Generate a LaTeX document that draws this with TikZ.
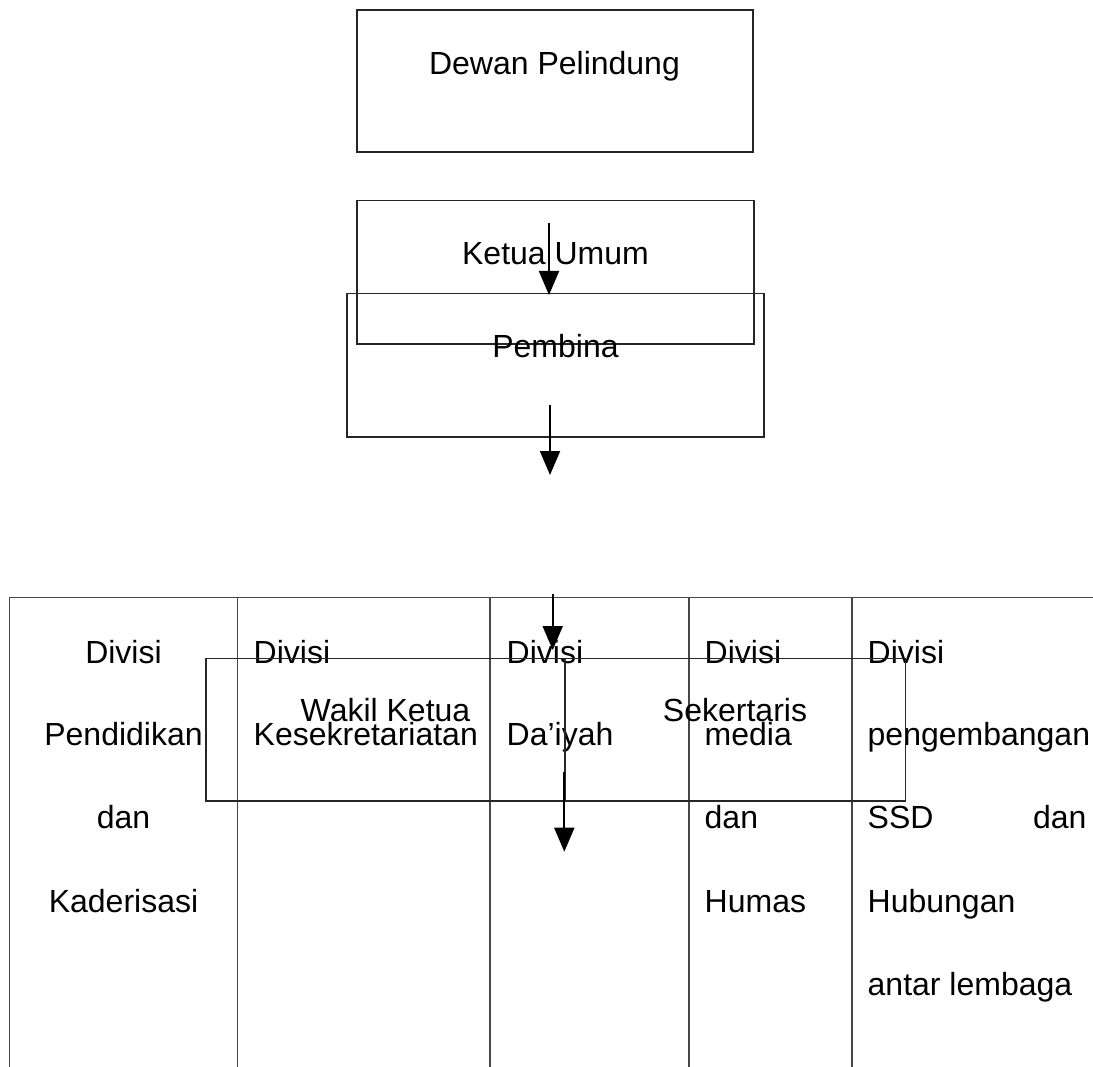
\documentclass[tikz,border=0pt]{standalone}
\usepackage{fontspec}
\setmainfont{Liberation Sans}
\usetikzlibrary{arrows.meta}
\begin{document}
\begin{tikzpicture}[x=1pt,y=-1pt,
  box/.style={draw=black!85, line width=1.3pt, inner sep=0pt},
  gridline/.style={draw=black!72, line width=1.2pt},
  txt/.style={inner sep=0pt, font=\fontsize{32}{38}\selectfont},
  arr/.style={line width=2pt, -{Triangle[width=20pt,length=24pt]}}]
\useasboundingbox (0,0) rectangle (1093,1067);

% top boxes
\node[box, minimum width=396pt, minimum height=142pt] (dewan) at (555,81) {};
\node[txt, anchor=base] (dewant) at (554.5,75) {Dewan Pelindung};
\node[box, minimum width=397pt, minimum height=143.3pt] (ketua) at (555.5,272.3) {};
\node[txt, anchor=base] (ketuat) at (555.5,265) {Ketua Umum};
\node[box, minimum width=417pt, minimum height=143.3pt] (pembina) at (555.5,365.3) {};
\node[txt, anchor=base] (pembinat) at (555.5,358) {Pembina};

% arrows
\coordinate (a1s) at (549,223); \coordinate (a1e) at (549,295);
\coordinate (a2s) at (550,405); \coordinate (a2e) at (550,475);
\coordinate (a3s) at (552.7,594); \coordinate (a3e) at (552.7,650);
\coordinate (a4s) at (564.3,771.7); \coordinate (a4e) at (564.3,851.7);

% table grid
\coordinate (tl) at (8.7,597.3); \coordinate (tr) at (1093,597.3);
\draw[gridline] (tl) -- (tr);
\foreach \x in {9.3,237.7,490,689,852}{
  \draw[gridline] (\x,597.3) -- (\x,1067);
}

% table texts
\node[txt, anchor=base] (c1a) at (123.5,663) {Divisi};
\node[txt, anchor=base] (c1b) at (123.5,745.7) {Pendidikan};
\node[txt, anchor=base] (c1c) at (123.5,828.3) {dan};
\node[txt, anchor=base] (c1d) at (123.5,912.7) {Kaderisasi};

\node[txt, anchor=base west] (c2a) at (253.5,663) {Divisi};
\node[txt, anchor=base west] (c2b) at (253.5,745.7) {Kesekretariatan};

\node[txt, anchor=base west] (c3a) at (506.5,663) {Divisi};
\node[txt, anchor=base west] (c3b) at (506.5,745.7) {Da’iyah};

\node[txt, anchor=base west] (c4a) at (704.5,663) {Divisi};
\node[txt, anchor=base west] (c4b) at (704.5,745.7) {media};
\node[txt, anchor=base west] (c4c) at (704.5,828.3) {dan};
\node[txt, anchor=base west] (c4d) at (704.5,912.7) {Humas};

\node[txt, anchor=base west] (c5a) at (867.5,663) {Divisi};
\node[txt, anchor=base west] (c5b) at (867.5,745.7) {pengembangan};
\node[txt, anchor=base west] (c5c) at (867.5,828.3) {SSD};
\node[txt, anchor=base east] (c5d) at (1086.7,828.3) {dan};
\node[txt, anchor=base west] (c5e) at (867.5,912.7) {Hubungan};
\node[txt, anchor=base west] (c5f) at (867.5,995) {antar lembaga};

% middle boxes
\node[box, minimum width=359pt, minimum height=142.7pt] (wakil) at (385.5,729.7) {};
\node[txt, anchor=base] (wakilt) at (385.5,721.7) {Wakil Ketua};
\node[box, minimum width=340.7pt, minimum height=142.7pt] (sekretaris) at (735.3,729.7) {};
\node[txt, anchor=base] (sekretarist) at (735,721.7) {Sekertaris};

\draw[arr] (a1s) -- (a1e);
\draw[arr] (a2s) -- (a2e);
\draw[arr] (a3s) -- (a3e);
\draw[arr] (a4s) -- (a4e);
\end{tikzpicture}
\end{document}
